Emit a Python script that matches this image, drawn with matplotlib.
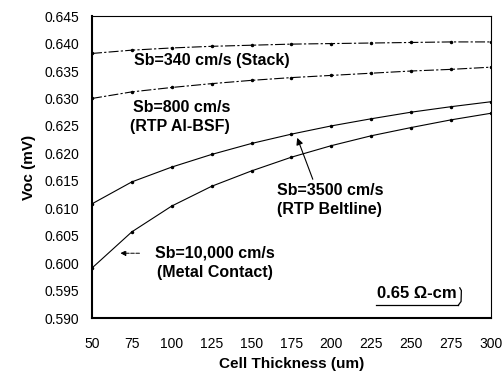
import matplotlib
matplotlib.use('Agg')
import matplotlib.pyplot as plt

plt.rcParams['font.family'] = ['Liberation Sans', 'DejaVu Sans']

# Cell thickness (um)
thickness = [50, 75, 100, 125, 150, 175, 200, 225, 250, 275, 300]

# Voc for each back surface recombination velocity
voc_340 = [0.6382, 0.6388, 0.6392, 0.6395, 0.6397, 0.6399, 0.6400, 0.6401, 0.6402, 0.6403, 0.6403]
voc_800 = [0.6300, 0.6312, 0.6320, 0.6327, 0.6333, 0.6338, 0.6342, 0.6346, 0.6350, 0.6353, 0.6357]
voc_3500 = [0.6108, 0.6148, 0.6175, 0.6198, 0.6218, 0.6235, 0.6250, 0.6263, 0.6275, 0.6285, 0.6294]
voc_10000 = [0.5991, 0.6057, 0.6104, 0.6140, 0.6168, 0.6193, 0.6214, 0.6232, 0.6247, 0.6261, 0.6273]

yticks = [0.590, 0.595, 0.600, 0.605, 0.610, 0.615, 0.620, 0.625, 0.630, 0.635, 0.640, 0.645]

fig = plt.figure(figsize=(5.04, 3.75), dpi=100)
ax = fig.add_axes([0.1825, 0.152, 0.7915, 0.805])

dashdot = (0, (9, 2, 2, 2))
ax.plot(thickness, voc_340, color='black', lw=0.8, ls=dashdot, marker='.', ms=3)
ax.plot(thickness, voc_800, color='black', lw=0.8, ls=dashdot, marker='.', ms=3)
ax.plot(thickness, voc_3500, color='black', lw=0.8, marker='.', ms=3)
ax.plot(thickness, voc_10000, color='black', lw=0.8, marker='.', ms=3)

ax.set_xlim(50, 300)
ax.set_ylim(0.590, 0.645)
ax.set_xticks(thickness)
ax.set_yticks(yticks)
ax.set_yticklabels(['%.3f' % v for v in yticks])
ax.tick_params(length=0, labelsize=10)
ax.tick_params(axis='y', pad=9)
ax.tick_params(axis='x', pad=14)

ax.spines['left'].set_linewidth(1.5)
ax.spines['bottom'].set_linewidth(1.5)
ax.spines['top'].set_linewidth(0.8)
ax.spines['right'].set_linewidth(0.8)

ax.set_xlabel('Cell Thickness (um)', fontsize=11, fontweight='bold', labelpad=4)
ax.set_ylabel('Voc (mV)', fontsize=11, fontweight='bold', labelpad=6)

bold = dict(fontsize=11.5, fontweight='bold', color='black', va='center')
ax.text(76.5, 0.6370, 'Sb=340 cm/s (Stack)', **bold)
ax.text(75.5, 0.6284, 'Sb=800 cm/s', **bold)
ax.text(74, 0.6248, '(RTP Al-BSF)', **bold)
ax.text(166, 0.6133, 'Sb=3500 cm/s', **bold)
ax.text(166, 0.6097, '(RTP Beltline)', **bold)
ax.text(89.4, 0.6018, 'Sb=10,000 cm/s', **bold)
ax.text(90.6, 0.5982, '(Metal Contact)', **bold)

ax.annotate('', xy=(178, 0.6233), xytext=(189, 0.6148),
            arrowprops=dict(arrowstyle='-|>', color='black', lw=0.8, mutation_scale=10))
ax.annotate('', xy=(66, 0.6018), xytext=(81.5, 0.6018),
            arrowprops=dict(arrowstyle='-|>', color='black', lw=0.7, ls='--', mutation_scale=8))

ax.text(228.5, 0.5945, '0.65 \u03a9-cm', fontsize=12, fontweight='bold', va='center')
ax.plot([228, 279.5], [0.5923, 0.5923], color='black', lw=0.9)
ax.plot([279.5, 281.3, 281.5, 280.5], [0.5923, 0.5930, 0.5950, 0.5955], color='black', lw=0.9)

fig.savefig('out.png', dpi=100)
